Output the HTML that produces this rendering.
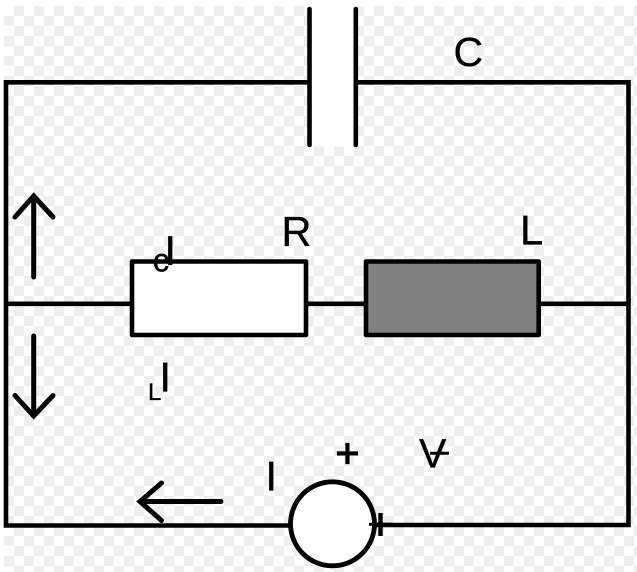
<!DOCTYPE html>
<html>
<head>
<meta charset="utf-8">
<style>
html,body{margin:0;padding:0;width:637px;height:572px;overflow:hidden;background:#fff}
.bg{position:absolute;left:0;top:0;width:637px;height:572px;overflow:hidden;
background-color:#fff;
background-image:repeating-conic-gradient(#eeeeee 0 25%,#ffffff 0 50%);
background-size:20px 20px;background-position:4px 6px}
svg{position:absolute;left:0;top:0;filter:blur(0.35px)}
text{font-family:"Liberation Sans",sans-serif;fill:#000;stroke:#000;stroke-width:0.3px}
</style>
</head>
<body>
<div class="bg"></div>
<svg width="637" height="572" viewBox="0 0 637 572" xmlns="http://www.w3.org/2000/svg">
<rect x="0" y="0" width="637" height="6" fill="#fff"/>
<rect x="0" y="0" width="4" height="572" fill="#fff"/>
<rect x="309" y="0" width="47" height="146.500" fill="#fff"/>
<g fill="none" stroke="#000" stroke-width="4.600">
<path d="M309.500 82.300H6V525.500H290" />
<path d="M356 82.300H628.500V525H374" />
<path d="M6 303.800H132M306 303.800H366M539 303.800H628.500"/>
<rect x="132" y="261.500" width="174" height="73.500" fill="#fff" stroke-linejoin="round"/>
<rect x="366" y="261.500" width="172.700" height="73.500" fill="#808080" stroke-linejoin="round"/>
<circle cx="332.500" cy="523.800" r="42" fill="#fff" stroke-width="4.800"/>
<g stroke-linecap="round" stroke-width="5">
<path d="M309.500 9V145M355.800 9V145" stroke-width="4.600"/>
<path d="M33.700 277V196M15 217L33.700 196L53 217"/>
<path d="M33.700 336V416M15 395.500L33.700 416L53 395.500"/>
<path d="M221 501.500H140M161.500 483L140 501.500L161.500 520.500"/>
</g>
<path d="M380.500 513V536" stroke-width="4.400"/>
<path d="M369 524.300H392" stroke-width="3"/>
<path d="M430 453.300H449" stroke-width="3"/>
</g>
<text x="453.500" y="66.200" font-size="41">C</text>
<text x="281.500" y="246" font-size="41.500">R</text>
<text x="520" y="244.500" font-size="42">L</text>
<text x="152.700" y="271.300" font-size="33">c</text>
<text x="164.400" y="265" font-size="42">I</text>
<text x="148" y="400" font-size="24">L</text>
<text x="159.400" y="391.700" font-size="42">I</text>
<text x="265.400" y="490.700" font-size="42">I</text>
<text x="419" y="467.300" font-size="41">V</text>
<text x="335.500" y="467" font-size="41" stroke="#000" style="stroke-width:1.2px">+</text>
</svg>
</body>
</html>
